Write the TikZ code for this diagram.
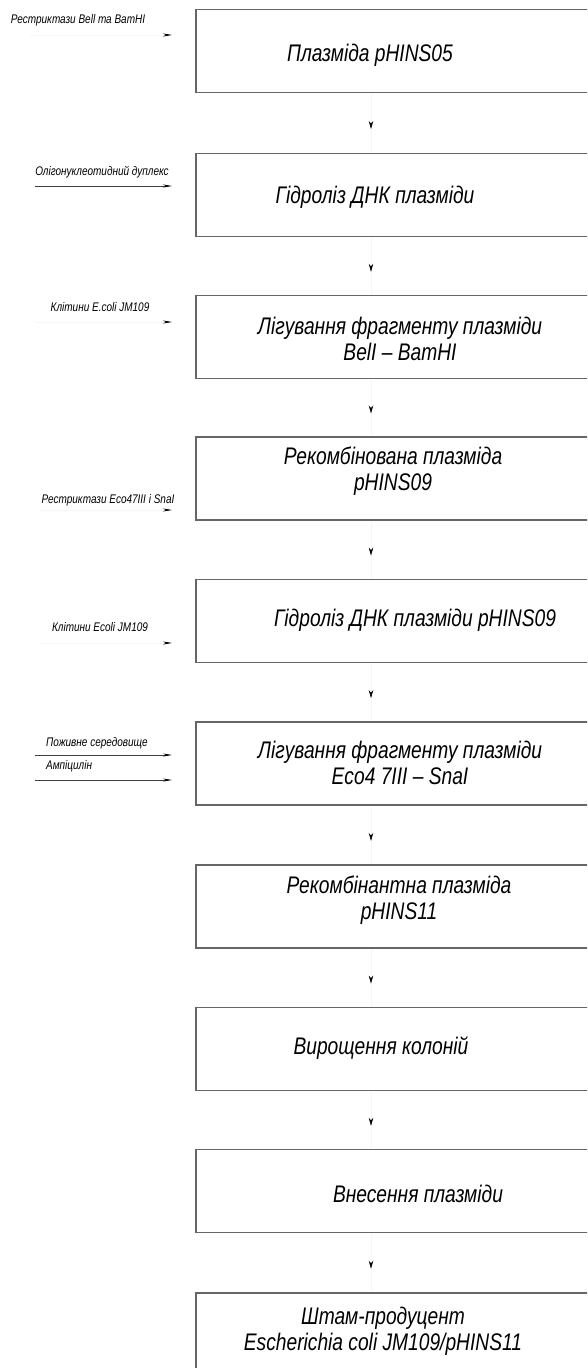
\documentclass[tikz,border=0pt]{standalone}
\usepackage{fontspec}
\setmainfont{Liberation Sans}[FakeStretch=0.8]
\usetikzlibrary{arrows.meta,decorations.markings}
\tikzset{
  box/.style={draw=black!60, line width=1.1pt, rectangle, minimum width=424pt, minimum height=83pt, inner sep=0pt},
  boxtxt/.style={font=\fontsize{24}{26}\selectfont\itshape, align=center, inner sep=0pt},
  lbl/.style={font=\fontsize{12.5}{14}\selectfont\itshape, inner sep=0pt},
  faint/.style={draw=black!3, line width=0.6pt},
  vis/.style={draw=black!75, line width=0.7pt},
  midarrow/.style={postaction={decorate}, decoration={markings, mark=at position #1 with {\arrow[black]{Stealth[length=8pt,width=4.5pt]}}}},
  endarrow/.style={-{Stealth[length=9pt,width=3pt,black]}}
}
\begin{document}
\begin{tikzpicture}[x=1pt,y=-1pt]
\useasboundingbox (0,0) rectangle (587,1368);
\clip (0,0) rectangle (587,1368);
\coordinate (ax) at (371,0);
% boxes
\node[box] (b1) at (408,51) {};
\node[box] (b2) at (408,195) {};
\node[box] (b3) at (408,337) {};
\node[box] (b4) at (408,478.5) {};
\node[box] (b5) at (408,621) {};
\node[box] (b6) at (408,763.5) {};
\node[box] (b7) at (408,906.5) {};
\node[box] (b8) at (408,1049) {};
\node[box] (b9) at (408,1191) {};
\node[box] (b10) at (408,1334.5) {};
% box texts
\node[boxtxt] (t1) at (370,55) {Плазміда pHINS05};
\node[boxtxt] (t2) at (375,197) {Гідроліз ДНК плазміди};
\node[boxtxt] (t3) at (400,339) {Лігування фрагменту плазміди\\BelI – BamHI};
\node[boxtxt] (t4) at (393,471) {Рекомбінована плазміда\\pHINS09};
\node[boxtxt] (t5) at (415,620) {Гідроліз ДНК плазміди pHINS09};
\node[boxtxt] (t6) at (400,763) {Лігування фрагменту плазміди\\Eco4 7III – SnaI};
\node[boxtxt] (t7) at (399,900) {Рекомбінантна плазміда\\pHINS11};
\node[boxtxt] (t8) at (381,1048) {Вирощення колоній};
\node[boxtxt] (t9) at (418,1194) {Внесення плазміди};
\node[boxtxt] (t10) at (383,1331) {Штам-продуцент\\Escherichia coli JM109/pHINS11};
% vertical connectors
\foreach \a/\b in {b1/b2,b2/b3,b3/b4,b4/b5,b5/b6,b6/b7,b7/b8,b8/b9,b9/b10}
  \draw[faint, midarrow=0.6] (\a.south -| ax) -- (\b.north -| ax);
% side labels
\node[lbl] (l1) at (78,20) {Рестриктази Bell та BamHI};
\node[lbl] (l2) at (102,172) {Олігонуклеотидний дуплекс};
\node[lbl] (l3) at (100,307) {Клітини E.coli JM109};
\node[lbl] (l4) at (108,500) {Рестриктази Eco47III і SnaI};
\node[lbl] (l5) at (100,627) {Клітини Ecoli JM109};
\node[lbl, anchor=west] (l6) at (46,743) {Поживне середовище};
\node[lbl, anchor=west] (l7) at (46,766) {Ампіцилін};
\coordinate (s1) at (30,35);  \coordinate (e1) at (172,35);
\coordinate (s2) at (35,186); \coordinate (e2) at (172,186);
\coordinate (s3) at (35,322); \coordinate (e3) at (172,322);
\coordinate (s4) at (40,510); \coordinate (e4) at (172,510);
\coordinate (s5) at (40,643); \coordinate (e5) at (172,643);
\coordinate (s6) at (35,755); \coordinate (e6) at (172,755);
\coordinate (s7) at (35,780); \coordinate (e7) at (172,780);
\draw[faint, endarrow] (s1) -- (e1);
\draw[vis, endarrow] (s2) -- (e2);
\draw[faint, endarrow] (s3) -- (e3);
\draw[faint, endarrow] (s4) -- (e4);
\draw[faint, endarrow] (s5) -- (e5);
\draw[vis, endarrow] (s6) -- (e6);
\draw[vis, endarrow] (s7) -- (e7);
\end{tikzpicture}
\end{document}
